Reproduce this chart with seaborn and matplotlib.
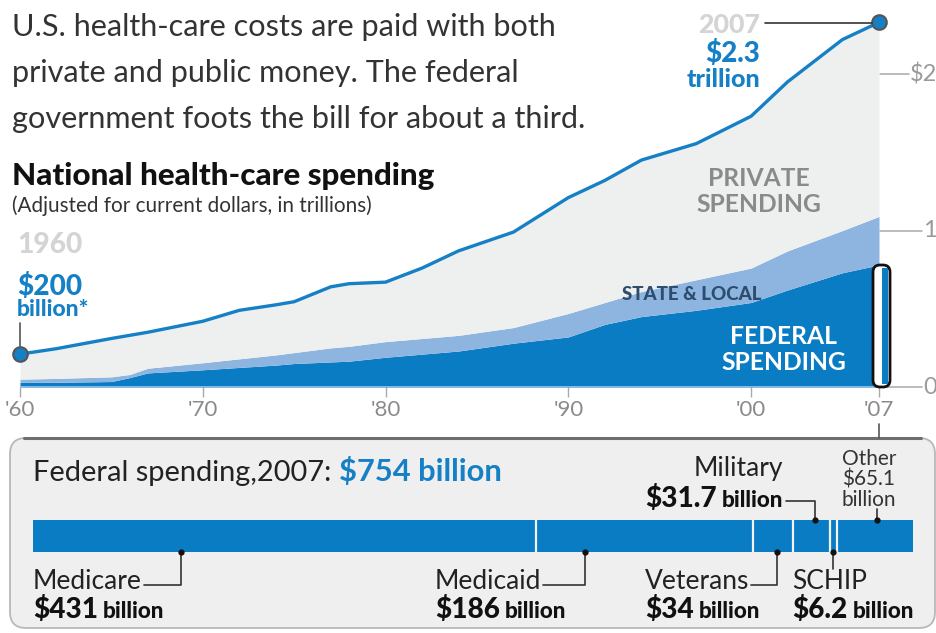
import matplotlib
matplotlib.use("Agg")
import matplotlib.pyplot as plt
import seaborn as sns
import pandas as pd
import numpy as np
from matplotlib.patches import FancyBboxPatch, Rectangle
from matplotlib.transforms import blended_transform_factory

# ---------------- data ----------------
years = [1960, 1962, 1965, 1966, 1967, 1970, 1972, 1974, 1975, 1977, 1978, 1980,
         1982, 1984, 1987, 1990, 1992, 1994, 1997, 2000, 2002, 2005, 2007]
total_spending = [0.21, 0.245, 0.31, 0.33, 0.35, 0.42, 0.49, 0.525, 0.545, 0.64, 0.66, 0.67,
                  0.76, 0.87, 0.99, 1.21, 1.32, 1.45, 1.555, 1.73, 1.95, 2.22, 2.33]
public_spending = [0.05, 0.055, 0.065, 0.08, 0.12, 0.155, 0.18, 0.205, 0.22, 0.25, 0.26, 0.29,
                   0.31, 0.33, 0.38, 0.47, 0.54, 0.61, 0.685, 0.76, 0.87, 1.00, 1.09]
federal_spending = [0.03, 0.03, 0.035, 0.06, 0.09, 0.11, 0.125, 0.14, 0.15, 0.16, 0.165, 0.19,
                    0.21, 0.23, 0.28, 0.32, 0.40, 0.45, 0.49, 0.54, 0.62, 0.73, 0.78]

x_ticks = [1960, 1970, 1980, 1990, 2000, 2007]
x_tick_labels = ["'60", "'70", "'80", "'90", "'00", "'07"]
y_ticks = [2, 1, 0]
y_tick_labels = ["$2", "1", "0"]

fed_categories = ["Medicare", "Medicaid", "Veterans", "Military", "SCHIP", "Other"]
fed_values = [431, 186, 34, 31.7, 6.2, 65.1]
fed_value_labels = ["$431", "$186", "$34", "$31.7", "$6.2", "$65.1"]
fed_total_label = "$754 billion"

# ---------------- style ----------------
FED = "#0a7cc4"
STATE = "#8db5e0"
PRIV = "#eeefef"
LINE = "#1680c6"
TXT = "#222222"

sns.set_theme(style="white")
plt.rcParams["font.family"] = ["Lato", "DejaVu Sans"]

W, H = 937, 633
fig = plt.figure(figsize=(W / 100, H / 100), dpi=100)
fig.patch.set_facecolor("white")
renderer = fig.canvas.get_renderer()


def fx(px):
    return px / W


def fy(py):
    return 1 - py / H


bg = fig.add_axes([0, 0, 1, 1], zorder=0)
bg.set_xlim(0, W); bg.set_ylim(H, 0); bg.axis("off")
fg = fig.add_axes([0, 0, 1, 1], zorder=10)
fg.set_xlim(0, W); fg.set_ylim(H, 0); fg.axis("off")
fg.patch.set_alpha(0)


def tw(s, size, weight="normal"):
    t = fg.text(0, 0, s, fontsize=size, fontweight=weight)
    w = t.get_window_extent(renderer).width
    t.remove()
    return w


def fit(s, width, weight="normal"):
    return 20.0 * width / tw(s, 20, weight)


def put(x, y, s, size, weight="normal", color=TXT, ha="left", va="baseline", ax=None, **kw):
    ax = ax or fg
    return ax.text(x, y, s, fontsize=size, fontweight=weight, color=color, ha=ha, va=va, **kw)


# ---------------- header text ----------------
para = ["U.S. health-care costs are paid with both",
        "private and public money. The federal",
        "government foots the bill for about a third."]
ps = fit(para[0], 546, "normal")
for i, line in enumerate(para):
    put(12, 36 + 46 * i, line, ps, "normal", color="#333333")

put(12, 185, "National health-care spending", fit("National health-care spending", 423, "black"), "black", color="#111111")
put(12, 212, "(Adjusted for current dollars, in trillions)",
    fit("(Adjusted for current dollars, in trillions)", 360), color="#333333")

# ---------------- main area chart ----------------
ax = fig.add_axes([fx(20), fy(387), fx(879) - fx(20), 2.4 * 156.5 / H], zorder=2)
ax.set_xlim(1960, 2007)
ax.set_ylim(0, 2.4)
ax.patch.set_alpha(0)
ax.fill_between(years, 0, federal_spending, color=FED, lw=0)
ax.fill_between(years, federal_spending, public_spending, color=STATE, lw=0)
ax.fill_between(years, public_spending, total_spending, color=PRIV, lw=0)
df = pd.DataFrame({"year": years, "total": total_spending})
sns.lineplot(data=df, x="year", y="total", ax=ax, color=LINE, lw=2.4, zorder=4)
ax.axhline(0, color="#9cc6ea", lw=1.2, zorder=3)
ax.scatter([years[0], years[-1]], [total_spending[0], total_spending[-1]], s=110,
           facecolor=LINE, edgecolor="#555555", linewidth=1.5, zorder=6, clip_on=False)
for s in ax.spines.values():
    s.set_visible(False)
ax.set_xticks(x_ticks)
ax.set_xticklabels(x_tick_labels)
ax.tick_params(axis="x", length=7, width=1, color="#aaaaaa", labelsize=16,
               labelcolor="#8a8a8a", pad=2, bottom=True)
ax.set_yticks([])
ax.set_xlabel(""); ax.set_ylabel("")

# right side value axis
tr = blended_transform_factory(fig.transFigure, ax.transData)
for v, lab in zip(y_ticks, y_tick_labels):
    t = fig.text(fx(937), v, lab, transform=tr, fontsize=17, color="#9a9a9a",
                 ha="right", va="center", zorder=11)
    x0 = t.get_window_extent(renderer).x0
    fig.add_artist(plt.Line2D([fx(880), (x0 - 1) / W], [v, v], transform=tr, color="#b0b0b0", lw=1.2))

# '07 connector down to panel
fg.plot([879, 879], [424, 438], color="#555555", lw=1.2)

# highlight box at 2007
fg.add_patch(FancyBboxPatch((873, 265), 17, 122, boxstyle="round,pad=0,rounding_size=7",
                            facecolor="white", edgecolor="#111111", lw=2, zorder=5))
fg.add_patch(Rectangle((882, 268), 6, 116, facecolor=FED, lw=0, zorder=6))

# annotations
put(17, 253, "1960", fit("1960", 65, "black"), "black", color="#d4d4d4")
put(17, 295, "$200", fit("$200", 65, "black"), "black", color=LINE)
put(17, 316, "billion*", fit("billion*", 73, "black"), "black", color=LINE)
fg.plot([20, 20], [323, 346], color="#555555", lw=1.2)

put(760, 33, "2007", fit("2007", 62, "black"), "black", color="#d4d4d4", ha="right")
fg.plot([765, 872], [23, 23], color="#333333", lw=1.2)
put(760, 62, "$2.3", fit("$2.3", 55, "black"), "black", color=LINE, ha="right")
put(760, 87, "trillion", fit("trillion", 74, "black"), "black", color=LINE, ha="right")

ss = fit("SPENDING", 125, "bold")
put(759, 179, "PRIVATE", ss, "bold", color="#8a8a8a", ha="center", va="center")
put(759, 204, "SPENDING", ss, "bold", color="#8a8a8a", ha="center", va="center")
put(692, 294, "STATE & LOCAL", fit("STATE & LOCAL", 140, "black"), "black", color="#2e4d6e", ha="center", va="center")
put(784, 337, "FEDERAL", ss, "bold", color="white", ha="center", va="center")
put(784, 362, "SPENDING", ss, "bold", color="white", ha="center", va="center")

# ---------------- bottom panel ----------------
bg.add_patch(FancyBboxPatch((10, 438), 925, 190, boxstyle="round,pad=0,rounding_size=16",
                            facecolor="#efefef", edgecolor="#b8b8b8", lw=1.3))
bg.plot([24, 921], [438, 438], color="#6e6e6e", lw=2.2)

ts = fit("Federal spending,2007:", 300)
t = put(33, 481, "Federal spending,2007:", ts, color=TXT)
x1 = t.get_window_extent(renderer).x1
put(x1 + 8, 481, fed_total_label, fit(fed_total_label, 163, "bold"), "bold", color=LINE)

bx = fig.add_axes([fx(33), fy(552), fx(913) - fx(33), 32 / H], zorder=3)
bx.set_xlim(0, sum(fed_values))
bx.set_ylim(-0.5, 0.5)
bx.axis("off")
lefts = np.concatenate([[0], np.cumsum(fed_values)[:-1]])
bx.barh([0] * len(fed_values), fed_values, left=lefts, height=1.0, color=FED, lw=0)
bx.vlines(np.cumsum(fed_values)[:-1], -0.5, 0.5, color="#f2f2f2", lw=1.6)

name_size = fit("Medicare", 109)
num_size = fit("$431", 65, "black")
bil_size = fit("billion", 62, "black")


def seg_px(i, frac, top):
    xd = lefts[i] + frac * fed_values[i]
    disp = bx.transData.transform((xd, 0.5 if top else -0.5))
    return fg.transData.inverted().transform(disp)


def value_text(x, y, num, ha="left"):
    wn = tw(num, num_size, "black")
    wb = tw("billion", bil_size, "black")
    total = wn + 5 + wb
    if ha == "right":
        x = x - total
    put(x, y, num, num_size, "black", color="#111111")
    put(x + wn + 5, y, "billion", bil_size, "black", color="#111111")
    return x + total


# labels below the bar: (index, text x, anchor fraction)
below = [(0, 33, 0.294), (1, 435, 0.226), (2, 645, 0.60)]
for i, xt, fr in below:
    dx, dy = seg_px(i, fr, top=False)
    t = put(xt, 589, fed_categories[i], name_size, color="#222222")
    xe = t.get_window_extent(renderer).x1
    fg.plot([dx, dx, xe + 2], [dy, 585, 585], color="#333333", lw=1.2)
    fg.plot([dx], [dy], "o", color="#111111", ms=3.5)
    value_text(xt, 618, fed_value_labels[i])

# SCHIP
dx, dy = seg_px(4, 0.5, top=False)
put(792, 589, "SCHIP", name_size, color="#222222")
fg.plot([dx, dx], [dy, 569], color="#333333", lw=1.2)
fg.plot([dx], [dy], "o", color="#111111", ms=3.5)
value_text(792, 618, fed_value_labels[4])

# Military (above)
dx, dy = seg_px(3, 0.6, top=True)
put(783, 476, "Military", name_size, color="#222222", ha="right")
xe = value_text(783, 507, fed_value_labels[3], ha="right")
fg.plot([xe + 3, dx, dx], [501, 501, dy], color="#333333", lw=1.2)
fg.plot([dx], [dy], "o", color="#111111", ms=3.5)

# Other (above)
dx, dy = seg_px(5, 0.53, top=True)
osz = fit("$65.1", 53)
for j, s in enumerate(["Other", fed_value_labels[5], "billion"]):
    put(842, 459 + 20.5 * j, s, osz, color="#333333", va="center")
fg.plot([dx, dx], [dy, 509], color="#333333", lw=1.2)
fg.plot([dx], [dy], "o", color="#111111", ms=3.5)

fig.savefig("out.png", dpi=100)
